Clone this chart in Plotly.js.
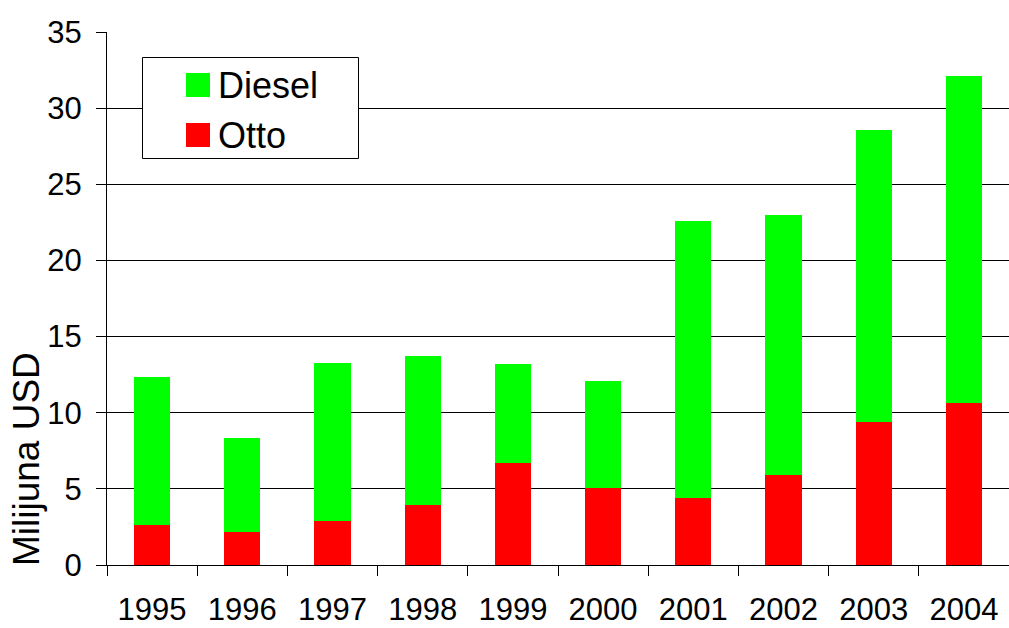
<!DOCTYPE html>
<html>
<head>
<meta charset="utf-8">
<script src="https://cdn.plot.ly/plotly-3.0.1.min.js"></script>
<style>html,body{margin:0;padding:0;background:#fff;}#chart{width:1009px;height:628px;}</style>
</head>
<body>
<div id="chart"></div>
<script>
const years = ['1995','1996','1997','1998','1999','2000','2001','2002','2003','2004'];
const otto = [2.63, 2.17, 2.89, 3.94, 6.70, 5.06, 4.40, 5.91, 9.39, 10.64];
const diesel = [9.71, 6.17, 10.37, 9.78, 6.50, 7.02, 18.19, 17.07, 19.17, 21.49];
const seriesNames = ['Diesel', 'Otto'];
const seriesColors = ['#00ff00', '#ff0000'];
const yTitle = 'Milijuna USD';

const font = 'Arial, "Liberation Sans", sans-serif';

const traces = [
  {type:'bar', name: seriesNames[1], x: years, y: otto, marker:{color: seriesColors[1]}, showlegend:false, hoverinfo:'x+y+name'},
  {type:'bar', name: seriesNames[0], x: years, y: diesel, marker:{color: seriesColors[0]}, showlegend:false, hoverinfo:'x+y+name'}
];

// manual legend (pixel-based converted to paper coords)
const L = 107, T = 32, W = 902, H = 533;
const px = v => (v - L) / W;
const py = v => (T + H - v) / H;
const shapes = [
  {type:'rect', xref:'paper', yref:'paper', x0:px(142.5), x1:px(358.5), y0:py(158.5), y1:py(57.5), line:{color:'#000', width:1}, fillcolor:'#fff', layer:'above'}
];
const annotations = [
  {xref:'paper', yref:'paper', x:px(27), y:py(459), text: yTitle, textangle:-90, showarrow:false, font:{family:font, size:37, color:'#000'}, xanchor:'center', yanchor:'middle'}
];
const legendRowsY = [85, 135];
seriesNames.forEach((n, i) => {
  const cy = legendRowsY[i];
  shapes.push({type:'rect', xref:'paper', yref:'paper', x0:px(186), x1:px(210), y0:py(cy+12), y1:py(cy-12), line:{width:0}, fillcolor: seriesColors[i], layer:'above'});
  annotations.push({xref:'paper', yref:'paper', x:px(216), y:py(cy), text:n, showarrow:false, xanchor:'left', yanchor:'middle', font:{family:font, size:36, color:'#000'}});
});

const layout = {
  width:1009, height:628,
  margin:{l:107, r:0, t:32, b:63},
  paper_bgcolor:'#fff', plot_bgcolor:'#fff',
  barmode:'stack', bargap:0.6,
  font:{family:font, size:31, color:'#000'},
  xaxis:{type:'category', showgrid:false, showline:true, linecolor:'#000', linewidth:1,
         ticks:'outside', ticklen:10, tickcolor:'#000', tickson:'boundaries',
         ticklabelstandoff:17, tickfont:{family:font, size:31, color:'#000'}, zeroline:false},
  yaxis:{range:[0,35], dtick:5, tick0:0, showgrid:true, gridcolor:'#000', gridwidth:1,
         showline:true, linecolor:'#000', linewidth:1, ticks:'outside', ticklen:10, tickcolor:'#000',
         ticklabelstandoff:8, tickfont:{family:font, size:31, color:'#000'}, zeroline:false},
  shapes: shapes,
  annotations: annotations,
  showlegend:false
};

Plotly.newPlot('chart', traces, layout, {displayModeBar:false, staticPlot:true});
</script>
</body>
</html>
